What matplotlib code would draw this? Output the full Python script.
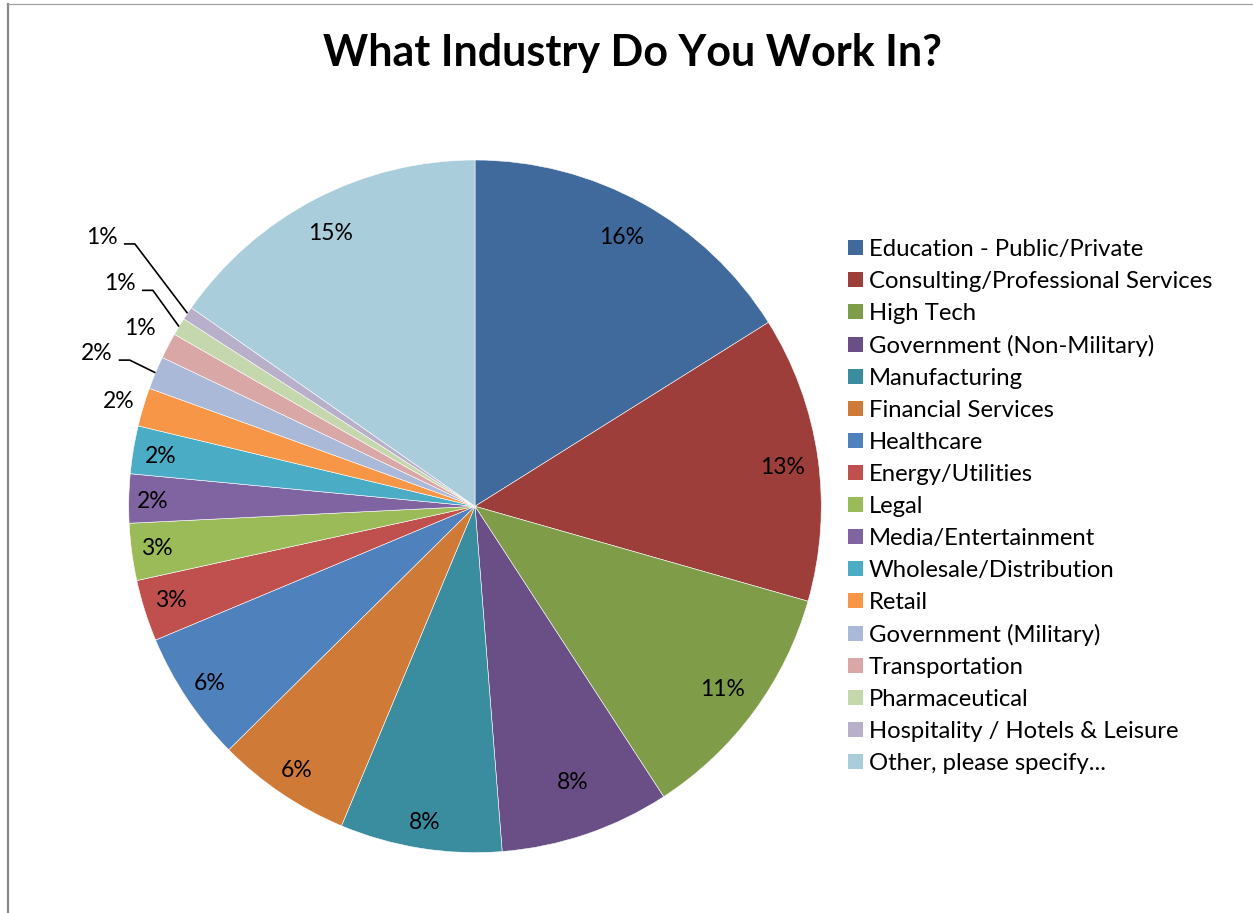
import numpy as np
import matplotlib
matplotlib.use("Agg")
import matplotlib.pyplot as plt
from matplotlib.patches import Patch

# ---- data ----
categories = [
    "Education - Public/Private",
    "Consulting/Professional Services",
    "High Tech",
    "Government (Non-Military)",
    "Manufacturing",
    "Financial Services",
    "Healthcare",
    "Energy/Utilities",
    "Legal",
    "Media/Entertainment",
    "Wholesale/Distribution",
    "Retail",
    "Government (Military)",
    "Transportation",
    "Pharmaceutical",
    "Hospitality / Hotels & Leisure",
    "Other, please specify...",
]
shares = [16.09, 13.33, 11.41, 7.92, 7.55, 6.29, 6.10, 2.87, 2.66, 2.28,
          2.23, 1.80, 1.54, 1.20, 0.83, 0.62, 15.28]
title = "What Industry Do You Work In?"

# ---- styles ----
colors = ["#416A9C", "#9D3E3B", "#7F9C48", "#6A4F87", "#3A8C9F", "#CF7A37",
          "#4F81BD", "#C0504D", "#9BBB59", "#8064A2", "#4BACC6", "#F79646",
          "#A9B9D7", "#D8A7A6", "#C5D7AD", "#B8AFCB", "#A9CDDB"]
# label radius (fraction of pie radius) and angular offset (deg) per slice
label_r = [0.885, 0.895, 0.89, 0.845, 0.925, 0.92, 0.92, 0.92, 0.927, 0.93,
           0.92, 1.073, 1.178, 1.096, 1.21, 1.328, 0.892]
label_dang = [0.3, -0.9, 0, 0.7, 0, 0, 0, -0.4, 0, 0.4, 0.5, 0.35, 0.7,
              -0.4, -0.8, -1.9, 0.3]
leader = [False] * 11 + [False, True, False, True, True, False]

FONT = "Lato"
W, H = 1253, 913
fig = plt.figure(figsize=(W / 100, H / 100), dpi=100)
fig.patch.set_facecolor("white")

# chart border (left and top visible)
fig.add_artist(plt.Line2D([7.5 / W, 7.5 / W], [0, 1 - 4 / H], color="#8a8a8a",
                          lw=1.6, transform=fig.transFigure))
fig.add_artist(plt.Line2D([7.5 / W, 1], [1 - 4.5 / H, 1 - 4.5 / H], color="#a0a0a0",
                          lw=0.9, transform=fig.transFigure))

cx, cy, R = 475, 913 - 506.3, 346.3
ax = fig.add_axes([(cx - R) / W, (cy - R) / H, 2 * R / W, 2 * R / H])
wedges, _ = ax.pie(shares, colors=colors, startangle=90, counterclock=False,
                   radius=1.0, wedgeprops=dict(edgecolor="white", linewidth=0.4))
ax.set_xlim(-1, 1)
ax.set_ylim(-1, 1)
ax.set_aspect("auto")
ax.axis("off")

px = 1.0 / R  # one pixel in data units
for i, w in enumerate(wedges):
    mid = np.deg2rad((w.theta1 + w.theta2) / 2)
    ang = mid + np.deg2rad(label_dang[i])
    tx, ty = label_r[i] * np.cos(ang), label_r[i] * np.sin(ang)
    txt = f"{round(shares[i]):.0f}%"
    ax.text(tx, ty, txt, ha="center", va="center", fontsize=16.5,
            family=FONT, color="black")
    if leader[i]:
        x0 = tx + 22 * px
        y0 = ty - 6.5 * px
        x1 = x0 + 11 * px
        ex, ey = np.cos(mid), np.sin(mid)
        ax.plot([x0, x1, ex], [y0, y0, ey], color="black", lw=1.2,
                clip_on=False, solid_capstyle="butt")

fig.text(632 / W, 1 - 53 / H, title, ha="center", va="center",
         fontsize=31, fontweight="bold", family=FONT)

handles = [Patch(facecolor=c, edgecolor="none") for c in colors]
leg = fig.legend(handles, categories, loc="upper left",
                 bbox_to_anchor=(848 / W, 1 - 239 / H), frameon=False,
                 prop=dict(family=FONT, size=17.2), handlelength=0.63,
                 handleheight=0.63, handletextpad=0.25, labelspacing=0.46,
                 borderpad=0, borderaxespad=0)

fig.savefig("out.png", dpi=100, facecolor="white")
